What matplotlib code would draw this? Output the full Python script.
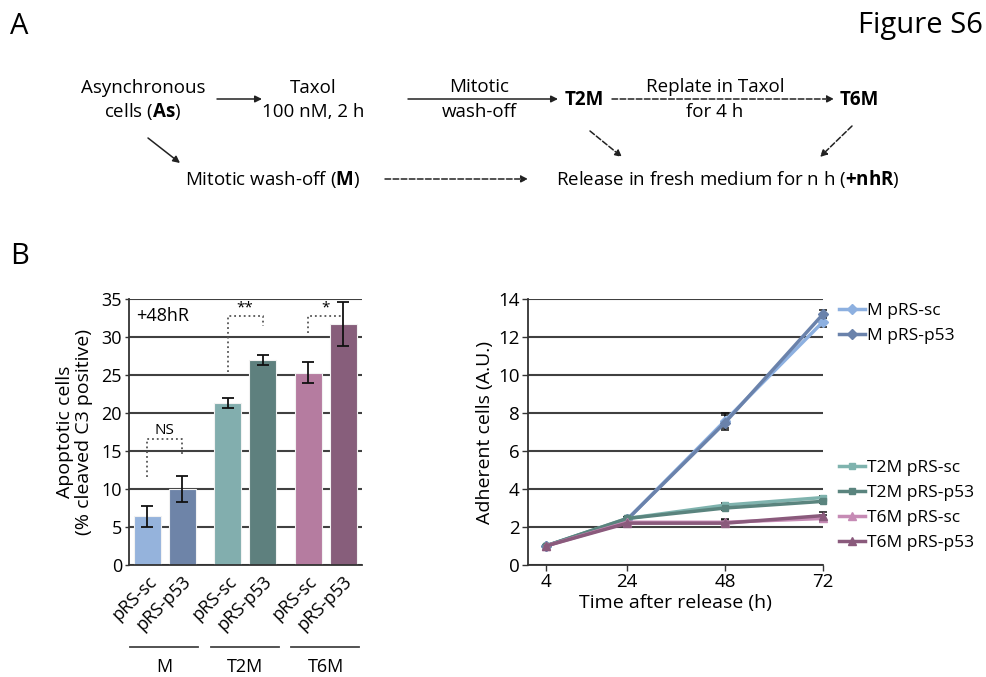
import matplotlib.pyplot as plt
import matplotlib.transforms as mtransforms

plt.rcParams['font.family'] = ['Open Sans', 'DejaVu Sans']
plt.rcParams['mathtext.fontset'] = 'custom'
plt.rcParams['mathtext.rm'] = 'Open Sans'
plt.rcParams['mathtext.bf'] = 'Open Sans:bold'

# ---- panel B left: apoptotic cells at +48hR ----
bar_labels = ['pRS-sc', 'pRS-p53', 'pRS-sc', 'pRS-p53', 'pRS-sc', 'pRS-p53']
bar_groups = ['M', 'T2M', 'T6M']
bar_values = [6.4, 10.0, 21.3, 27.0, 25.3, 31.7]
bar_errors = [1.4, 1.65, 0.65, 0.65, 1.35, 2.9]
bar_colors = ['#95B3DC', '#6E84A8', '#82AEAE', '#5E807E', '#B57CA0', '#875E7B']

# significance brackets: (left bar, right bar, left foot, top, right foot, label)
brackets = [
    (0, 1, 11.6, 16.6, 14.3, 'NS'),
    (2, 3, 25.4, 32.7, 31.4, '**'),
    (4, 5, 30.5, 32.7, 32.7, '*'),
]

# ---- panel B right: adherent cells over time ----
hours = [4, 24, 48, 72]
series_names = ['M pRS-sc', 'M pRS-p53', 'T2M pRS-sc', 'T2M pRS-p53', 'T6M pRS-sc', 'T6M pRS-p53']
m_sc = [1.0, 2.4, 7.6, 12.8]
m_p53 = [1.0, 2.4, 7.5, 13.2]
t2m_sc = [1.0, 2.45, 3.15, 3.55]
t2m_p53 = [1.0, 2.45, 3.0, 3.35]
t6m_sc = [1.0, 2.25, 2.25, 2.45]
t6m_p53 = [1.0, 2.2, 2.2, 2.6]
m_sc_err = [0.05, 0.1, 0.4, 0.25]
m_p53_err = [0.05, 0.1, 0.4, 0.2]
t2m_sc_err = [0.05, 0.08, 0.1, 0.1]
t2m_p53_err = [0.05, 0.08, 0.1, 0.1]
t6m_sc_err = [0.05, 0.08, 0.15, 0.2]
t6m_p53_err = [0.05, 0.08, 0.15, 0.2]
line_colors = ['#8DB0E0', '#6A82AB', '#7FB3AE', '#5A847E', '#C68BB5', '#8A5A7C']
line_markers = ['D', 'D', 's', 's', '^', '^']

fig = plt.figure(figsize=(9.86, 6.77), dpi=100)
W, H = 986, 677

def px_axes(x0, y0, x1, y1):
    return fig.add_axes([x0 / W, 1 - y1 / H, (x1 - x0) / W, (y1 - y0) / H])

# ---------------- panel A (diagram) ----------------
fig.text(10 / W, 1 - 26 / H, 'A', fontsize=21, va='center', ha='left')
fig.text(983 / W, 1 - 26 / H, 'Figure S6', fontsize=21, va='center', ha='right')
fig.text(10 / W, 1 - 256 / H, 'B', fontsize=21, va='center', ha='left')

def ftxt(x, y, s, **kw):
    fig.text(x / W, 1 - y / H, s, ha='center', va='center', fontsize=13.5, **kw)

def farrow(x0, y0, x1, y1, dashed=False):
    fig.add_artist(plt.Annotation('', xy=(x1 / W, 1 - y1 / H), xytext=(x0 / W, 1 - y0 / H),
                                  xycoords='figure fraction',
                                  arrowprops=dict(arrowstyle='-|>', color='#222222', lw=1.1,
                                                  linestyle='--' if dashed else '-',
                                                  mutation_scale=10, shrinkA=0, shrinkB=0)))

ftxt(143, 88, 'Asynchronous')
ftxt(143, 112, r'cells ($\mathbf{As}$)')
ftxt(313, 88, 'Taxol')
ftxt(313, 112, '100 nM, 2 h')
ftxt(479, 87, 'Mitotic')
ftxt(479, 112, 'wash-off')
ftxt(584, 100, 'T2M', fontweight='bold')
ftxt(715, 87, 'Replate in Taxol')
ftxt(715, 112, 'for 4 h')
ftxt(859, 100, 'T6M', fontweight='bold')
ftxt(273, 179, r'Mitotic wash-off ($\mathbf{M}$)')
ftxt(728, 179, r'Release in fresh medium for n h ($\mathbf{+nhR}$)')

farrow(217, 99, 262, 99)
farrow(408, 99, 558, 99)
farrow(612, 99, 834, 99, dashed=True)
farrow(148, 138, 180, 163)
farrow(385, 179, 528, 179, dashed=True)
farrow(590, 131, 622, 157, dashed=True)
farrow(852, 126, 820, 157, dashed=True)

# ---------------- panel B left: bars ----------------
ax1 = px_axes(129, 299, 362, 565)
pos = [0, 1, 2.3, 3.3, 4.6, 5.6]
ax1.bar(pos, bar_values, width=0.77, color=bar_colors, edgecolor='#f2f2f2', linewidth=0.8, zorder=2)
ax1.errorbar(pos, bar_values, yerr=bar_errors, fmt='none', ecolor='#111111',
             elinewidth=1.3, capsize=4.5, capthick=1.3, zorder=3)
ax1.set_xlim(-0.52, 6.14)
ax1.set_ylim(0, 35)
ax1.set_yticks(range(0, 36, 5))
ax1.tick_params(axis='y', labelsize=13, length=3, width=1, color='#333333', pad=2)
ax1.set_xticks(pos)
ax1.set_xticklabels(bar_labels, rotation=45, ha='right', rotation_mode='anchor', fontsize=13)
ax1.tick_params(axis='x', length=0, pad=5)
ax1.yaxis.grid(True, color='#404040', lw=1.5)
ax1.set_axisbelow(True)
for s in ['top', 'right']:
    ax1.spines[s].set_visible(False)
for s in ['left', 'bottom']:
    ax1.spines[s].set_color('#333333')
    ax1.spines[s].set_linewidth(1.3)
ax1.set_ylabel('Apoptotic cells\n(% cleaved C3 positive)', fontsize=14, labelpad=6,
               linespacing=1.1)
ax1.text(0.03, 0.935, '+48hR', transform=ax1.transAxes, fontsize=13, va='center', ha='left')

for i, j, yl, yt, yr, lab in brackets:
    ax1.plot([pos[i], pos[i], pos[j], pos[j]], [yl, yt, yt, yr], ls=':', color='#555555',
             lw=1.3, zorder=1.5)
    ax1.text((pos[i] + pos[j]) / 2, yt + 0.1, lab, ha='center', va='bottom', fontsize=11)

trans = mtransforms.blended_transform_factory(ax1.transData, ax1.transAxes)
for g, name in enumerate(bar_groups):
    a, b = pos[2 * g], pos[2 * g + 1]
    ax1.plot([a - 0.48, b + 0.46], [-0.308, -0.308], color='#444444', lw=1.3,
             transform=trans, clip_on=False)
    ax1.text((a + b) / 2, -0.385, name, transform=trans, ha='center', va='center', fontsize=13)

# ---------------- panel B right: lines ----------------
ax2 = px_axes(528, 299, 823, 565)
series = [m_sc, m_p53, t2m_sc, t2m_p53, t6m_sc, t6m_p53]
errs = [m_sc_err, m_p53_err, t2m_sc_err, t2m_p53_err, t6m_sc_err, t6m_p53_err]
handles = []
for vals, err, name, c, mk in zip(series, errs, series_names, line_colors, line_markers):
    ax2.errorbar(hours, vals, yerr=err, fmt='none', ecolor='#111111', elinewidth=1.1,
                 capsize=3, capthick=1.1, zorder=3, clip_on=False)
    h, = ax2.plot(hours, vals, color=c, lw=2.5, marker=mk,
                  markersize=6 if mk == '^' else 5, label=name, zorder=4, clip_on=False)
    handles.append(h)
ax2.set_xlim(-0.35, 72)
ax2.set_ylim(0, 14)
ax2.set_xticks(hours)
ax2.set_yticks(range(0, 15, 2))
ax2.tick_params(labelsize=13.5, length=4, width=1, color='#333333', pad=2)
ax2.yaxis.grid(True, color='#404040', lw=1.5)
ax2.set_axisbelow(True)
for s in ['top', 'right']:
    ax2.spines[s].set_visible(False)
for s in ['left', 'bottom']:
    ax2.spines[s].set_color('#333333')
    ax2.spines[s].set_linewidth(1.3)
ax2.set_ylabel('Adherent cells (A.U.)', fontsize=14, labelpad=3)
ax2.set_xlabel('Time after release (h)', fontsize=14, labelpad=2)

leg_kw = dict(loc='upper left', frameon=False, fontsize=12.5, handlelength=1.5,
              handletextpad=0.15, borderaxespad=0, labelspacing=0.5)
leg1 = ax2.legend(handles[:2], series_names[:2], bbox_to_anchor=(1.03, 1.01), **leg_kw)
ax2.add_artist(leg1)
ax2.legend(handles[2:], series_names[2:], bbox_to_anchor=(1.03, 0.42), **leg_kw)

fig.savefig('out.png', dpi=100)
